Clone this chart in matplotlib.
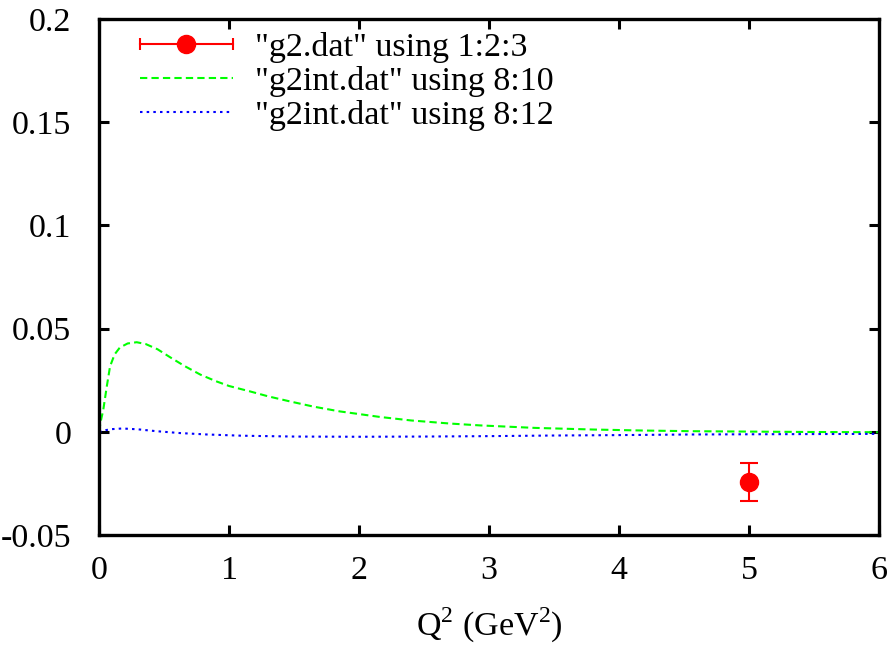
import matplotlib
matplotlib.use("Agg")
import matplotlib.pyplot as plt
from matplotlib.lines import Line2D
from matplotlib.legend_handler import HandlerBase

plt.rcParams['font.family'] = ['Liberation Serif', 'DejaVu Serif']
plt.rcParams['mathtext.fontset'] = 'custom'
plt.rcParams['mathtext.rm'] = 'Liberation Serif'
plt.rcParams['font.size'] = 24.5

# data point with error bar
pt_x = [5.0]
pt_y = [-0.0241]
pt_err = [0.0092]

# "g2int.dat" using 8:10
g10_x = [0.0, 0.015, 0.033, 0.06, 0.085, 0.12, 0.16, 0.22, 0.29, 0.36, 0.45, 0.55,
         0.66, 0.78, 0.9, 1.0, 1.16, 1.3, 1.47, 1.65, 1.85, 2.0, 2.16, 2.4, 2.7,
         2.93, 3.35, 3.8, 4.2, 4.55, 5.0, 5.5, 6.0]
g10_y = [0.0, 0.0055, 0.0107, 0.022, 0.0317, 0.0375, 0.0408, 0.0428, 0.0434, 0.0425,
         0.0400, 0.0360, 0.0318, 0.0277, 0.0245, 0.0222, 0.0196, 0.0172, 0.0147, 0.0122,
         0.0099, 0.0086, 0.0072, 0.0055, 0.0040, 0.0031, 0.0019, 0.0011, 0.0006, 0.0003,
         0.0001, -0.0001, -0.0002]

# "g2int.dat" using 8:12
g12_x = [0.0, 0.05, 0.1, 0.18, 0.3, 0.44, 0.62, 0.83, 1.1, 1.5, 2.0, 2.5, 3.0,
         3.5, 4.0, 4.55, 5.0, 5.5, 6.0]
g12_y = [0.0, 0.0008, 0.0013, 0.0016, 0.0012, 0.0003, -0.0006, -0.0013, -0.0019,
         -0.0023, -0.0024, -0.0023, -0.0021, -0.0018, -0.0016, -0.0013, -0.0012,
         -0.0011, -0.0010]

legend_labels = ['"g2.dat" using 1:2:3', '"g2int.dat" using 8:10', '"g2int.dat" using 8:12']
xlabel = 'Q$^2$ (GeV$^2$)'
xticks = [0, 1, 2, 3, 4, 5, 6]
yticks = [-0.05, 0, 0.05, 0.1, 0.15, 0.2]
ytick_labels = ['-0.05', '0', '0.05', '0.1', '0.15', '0.2']

fig = plt.figure(figsize=(8.88, 6.45), dpi=100)
ax = fig.add_axes([99 / 888, 1 - 535 / 645, 780 / 888, 516 / 645])

red = '#ff0000'
ax.errorbar(pt_x, pt_y, yerr=pt_err, fmt='o', color=red, markersize=13,
            elinewidth=1.5, capsize=6.5, capthick=1.5, zorder=3)
ax.plot(g10_x, g10_y, color='#00ff00', lw=1.5, linestyle=(0, (3.5, 2.0)), zorder=2)
ax.plot(g12_x, g12_y, color='#0000ff', lw=1.5, linestyle=(0, (1.2, 2.0)), zorder=2)

ax.set_xlim(0, 6)
ax.set_ylim(-0.05, 0.2)
ax.set_xticks(xticks)
ax.set_xticklabels([str(t) for t in xticks])
ax.set_yticks(yticks)
ax.set_yticklabels(ytick_labels)
ax.tick_params(direction='in', length=7, width=2.2, top=True, right=True)
ax.tick_params(axis='y', pad=20)
ax.tick_params(axis='x', pad=15)
for s in ax.spines.values():
    s.set_linewidth(2.4)
ax.set_xlabel(xlabel, labelpad=14)


class HandlerGnuErr(HandlerBase):
    def create_artists(self, legend, orig_handle, xdescent, ydescent, width, height, fontsize, trans):
        y = height / 2 - ydescent
        x0 = -xdescent
        x1 = -xdescent + width
        line = Line2D([x0, x1], [y, y], color=red, lw=1.5)
        caps = Line2D([x0, x1], [y, y], color=red, lw=0, marker='|', markersize=8, markeredgewidth=1.5)
        mk = Line2D([(x0 + x1) / 2], [y], color=red, lw=0, marker='o', markersize=13)
        for a in (line, caps, mk):
            a.set_transform(trans)
        return [line, caps, mk]


h_err = Line2D([], [], color=red)
h10 = Line2D([], [], color='#00ff00', lw=1.5, linestyle=(0, (3.5, 2.0)))
h12 = Line2D([], [], color='#0000ff', lw=1.5, linestyle=(0, (1.2, 2.0)))
leg = ax.legend([h_err, h10, h12], legend_labels, loc='upper left',
                bbox_to_anchor=(41 / 780, 1 - 13 / 516), frameon=False,
                handlelength=2.73, handletextpad=0.65, labelspacing=0.09,
                borderpad=0.0, borderaxespad=0.0, handler_map={h_err: HandlerGnuErr()})

fig.savefig('out.png', dpi=100)
